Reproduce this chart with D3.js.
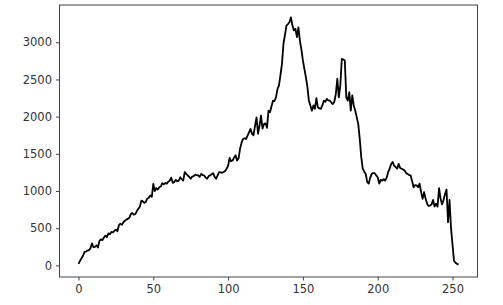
<!DOCTYPE html>
<html>
<head>
<meta charset="utf-8">
<script src="https://cdn.jsdelivr.net/npm/d3@7"></script>
<style>
  body { margin: 0; background: #fff; }
  .axis text { font-family: "DejaVu Sans", sans-serif; font-size: 11.5px; fill: #333; }
  .axis line { stroke: #444; }
  .axis path { display: none; }
  .frame { fill: none; stroke: #444; stroke-width: 1; }
  .series { fill: none; stroke: #000; stroke-width: 1.8; stroke-linejoin: round; }
</style>
</head>
<body>
<div id="chart"></div>
<script>
// values, one per index 0..254
var values = [
  20, 60, 95, 130, 180, 185, 200, 205, 230, 295,
  245, 250, 270, 240, 330, 350, 340, 375, 400, 380,
  430, 420, 450, 445, 465, 480, 460, 540, 560, 545,
  580, 600, 615, 625, 640, 690, 705, 680, 690, 730,
  760, 790, 870, 860, 840, 855, 900, 910, 940, 920,
  1095, 1000, 1040, 1020, 1050, 1060, 1105, 1090, 1110, 1100,
  1125, 1140, 1180, 1110, 1120, 1150, 1130, 1140, 1185, 1160,
  1140, 1255, 1230, 1210, 1190, 1165, 1195, 1200, 1220, 1215,
  1210, 1190, 1230, 1215, 1210, 1180, 1165, 1200, 1210, 1225,
  1240, 1190, 1165, 1210, 1255, 1250, 1245, 1255, 1270, 1300,
  1340, 1445, 1400, 1410, 1450, 1480, 1410, 1440, 1570, 1650,
  1700, 1710, 1700, 1745, 1790, 1835, 1770, 1750, 1880, 1990,
  1770, 1880, 2015, 1840, 1900, 1910, 1850, 2080, 2060, 2140,
  2215, 2210, 2260, 2370, 2420, 2560, 2710, 2980, 3100, 3225,
  3245, 3270, 3335, 3225, 3160, 3180, 3070, 3200, 3020, 2900,
  2755, 2640, 2530, 2400, 2215, 2150, 2080, 2150, 2105, 2250,
  2125, 2110, 2105, 2150, 2215, 2200, 2240, 2220, 2215, 2190,
  2170, 2200, 2305, 2510, 2260, 2420, 2775, 2770, 2755, 2260,
  2215, 2330, 2080, 2285, 2150, 2080, 1990, 1900, 1700, 1455,
  1300, 1260, 1230, 1120, 1100, 1180, 1230, 1240, 1240, 1210,
  1185, 1100, 1150, 1140, 1160, 1140, 1180, 1255, 1300, 1365,
  1390, 1340, 1320, 1300, 1365, 1310, 1300, 1290, 1275, 1240,
  1230, 1215, 1210, 1130, 1050, 1080, 1075, 1050, 1100, 985,
  895, 985, 900, 830, 800, 805, 820, 880, 790, 830,
  790, 1040, 900, 820, 880, 960, 1020, 580, 880, 500,
  280, 60, 35, 20, 10
];
var xTicks = [0, 50, 100, 150, 200, 250];
var yTicks = [0, 500, 1000, 1500, 2000, 2500, 3000];

var width = 503,
  height = 305;
var margins = { top: 5, right: 25.5, bottom: 28, left: 59.5 };

var data = values.map((v, i) => ({ i: i, v: v }));

// matplotlib style 5% padding on both axes
var xExt = d3.extent(data, (d) => d.i),
  yExt = d3.extent(data, (d) => d.v);
var xPad = (xExt[1] - xExt[0]) * 0.05,
  yPad = (yExt[1] - yExt[0]) * 0.05;

var x = d3
  .scaleLinear()
  .domain([xExt[0] - xPad, xExt[1] + xPad])
  .range([margins.left, width - margins.right]);

var y = d3
  .scaleLinear()
  .domain([yExt[0] - yPad, yExt[1] + yPad])
  .range([height - margins.bottom, margins.top]);

var svg = d3
  .select("#chart")
  .append("svg")
  .attr("width", width)
  .attr("height", height);

// Add X axis
svg
  .append("g")
  .attr("class", "axis")
  .attr("transform", "translate(0," + (height - margins.bottom) + ")")
  .call(d3.axisBottom(x).tickValues(xTicks).tickSize(3.5).tickPadding(4).tickFormat(d3.format("d")));

// Add Y axis
svg
  .append("g")
  .attr("class", "axis")
  .attr("transform", "translate(" + margins.left + ",0)")
  .call(d3.axisLeft(y).tickValues(yTicks).tickSize(3.5).tickPadding(4).tickFormat(d3.format("d")));

// axes frame
svg
  .append("rect")
  .attr("class", "frame")
  .attr("x", margins.left)
  .attr("y", margins.top)
  .attr("width", width - margins.right - margins.left)
  .attr("height", height - margins.bottom - margins.top);

// the line
var line = d3
  .line()
  .x((d) => x(d.i))
  .y((d) => y(d.v));

svg.append("path").data([data]).attr("class", "series").attr("d", line);
</script>
</body>
</html>
